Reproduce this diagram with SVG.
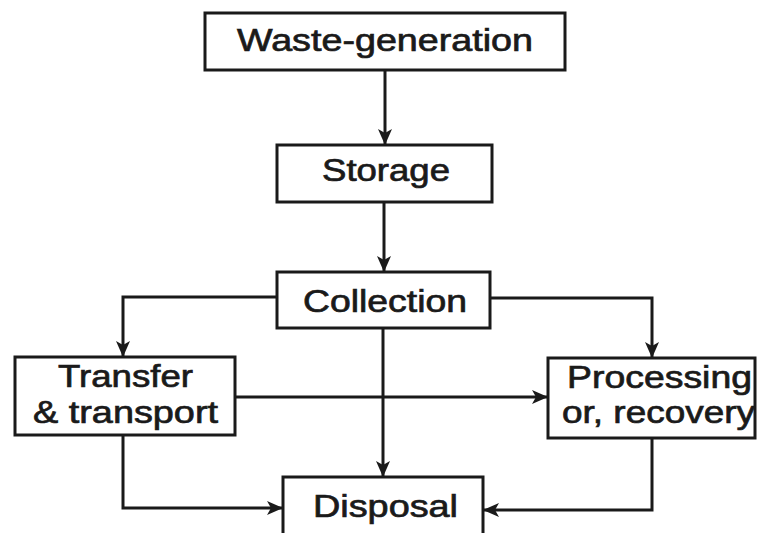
<svg xmlns="http://www.w3.org/2000/svg" width="761" height="533" viewBox="0 0 761 533">
<defs>
<style>
.box{fill:#fff;stroke:#1a1a1a;stroke-width:3}
.ln{fill:none;stroke:#1a1a1a;stroke-width:3}
.t{font-family:"Liberation Sans",Arial,sans-serif;font-size:31px;fill:#1a1a1a;stroke:#1a1a1a;stroke-width:0.7;text-anchor:start}
</style>
<marker id="ah" viewBox="0 0 16 14" refX="15" refY="7" markerWidth="16" markerHeight="14" markerUnits="userSpaceOnUse" orient="auto">
<path d="M0,0 L16,7 L0,14 L4,7 Z" fill="#1a1a1a"/>
</marker>
</defs>
<rect width="761" height="533" fill="#fff"/>
<g id="connectors">
<line class="ln" x1="385" y1="70" x2="385" y2="144" marker-end="url(#ah)"/>
<line class="ln" x1="384" y1="202" x2="384" y2="271" marker-end="url(#ah)"/>
<polyline class="ln" points="277,297 123,297 123,356" marker-end="url(#ah)"/>
<polyline class="ln" points="490,298 652,298 652,357" marker-end="url(#ah)"/>
<line class="ln" x1="235" y1="397" x2="547" y2="397" marker-end="url(#ah)"/>
<line class="ln" x1="383" y1="328" x2="383" y2="476" marker-end="url(#ah)"/>
<polyline class="ln" points="123,435 123,508 282,508" marker-end="url(#ah)"/>
<polyline class="ln" points="652,438 652,510 484,510" marker-end="url(#ah)"/>
</g>
<g id="waste-generation">
<rect class="box" x="205" y="13" width="360" height="57"/>
<text class="t" x="237" y="51" textLength="296" lengthAdjust="spacingAndGlyphs">Waste-generation</text>
</g>
<g id="storage">
<rect class="box" x="277" y="145" width="215" height="57"/>
<text class="t" x="322" y="181" textLength="128" lengthAdjust="spacingAndGlyphs">Storage</text>
</g>
<g id="collection">
<rect class="box" x="277" y="272" width="213" height="56"/>
<text class="t" x="303" y="312" textLength="164" lengthAdjust="spacingAndGlyphs">Collection</text>
</g>
<g id="transfer">
<rect class="box" x="15" y="357" width="220" height="78"/>
<text class="t" x="58" y="387" textLength="135" lengthAdjust="spacingAndGlyphs">Transfer</text>
<text class="t" x="33" y="423" textLength="185" lengthAdjust="spacingAndGlyphs">&amp; transport</text>
</g>
<g id="processing">
<rect class="box" x="548" y="358" width="207" height="80"/>
<text class="t" x="567" y="388" textLength="185" lengthAdjust="spacingAndGlyphs">Processing</text>
<text class="t" x="562" y="423" textLength="193" lengthAdjust="spacingAndGlyphs">or, recovery</text>
</g>
<g id="disposal">
<rect class="box" x="283" y="477" width="200" height="70"/>
<text class="t" x="313" y="517" textLength="145" lengthAdjust="spacingAndGlyphs">Disposal</text>
</g>
</svg>
